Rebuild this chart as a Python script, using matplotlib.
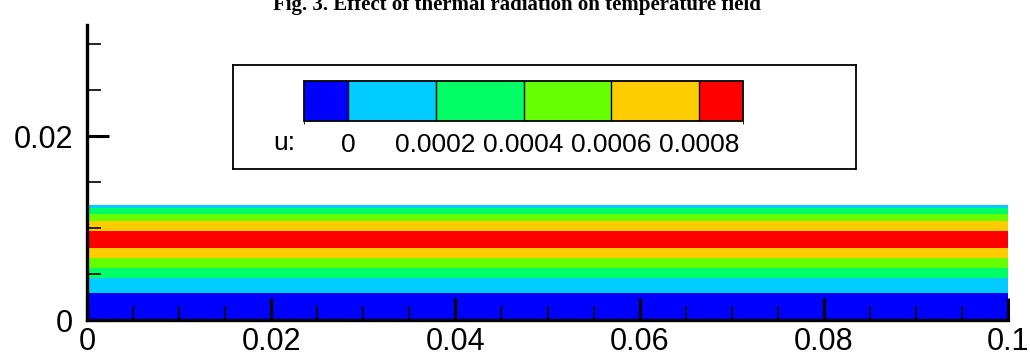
import matplotlib
matplotlib.use('Agg')
import matplotlib.pyplot as plt
import numpy as np
from matplotlib.colors import ListedColormap, BoundaryNorm

# velocity profile across the channel
y_prof = [0.0, 0.00297, 0.00453, 0.00562, 0.00671, 0.00779, 0.00875,
          0.00971, 0.01076, 0.01149, 0.01214, 0.01253]
u_prof = [0.0, 0.0, 0.0002, 0.0004, 0.0006, 0.0008, 0.00088,
          0.0008, 0.0006, 0.0004, 0.0002, 0.0001]
x_ends = [0.0, 0.1]

levels = [-0.0001, 0.0, 0.0002, 0.0004, 0.0006, 0.0008, 0.0009]
level_labels = ['0', '0.0002', '0.0004', '0.0006', '0.0008']
band_colors = ['#0000ff', '#00ccff', '#00ff66', '#66ff00', '#ffcc00', '#ff0000']

plt.rcParams['font.family'] = ['Liberation Sans', 'DejaVu Sans']

fig = plt.figure(figsize=(10.3, 3.56), dpi=100)
ax = fig.add_axes([87/1030, 36/356, 921/1030, 295/356])

X, Y = np.meshgrid(x_ends, y_prof)
U = np.tile(np.array(u_prof)[:, None], (1, len(x_ends)))
cmap = ListedColormap(band_colors)
norm = BoundaryNorm(levels, cmap.N)
cs = ax.contourf(X, Y, U, levels=levels, cmap=cmap, norm=norm)

ax.set_xlim(0, 0.1)
ax.set_ylim(0, 0.03207)
ax.set_xticks([0, 0.02, 0.04, 0.06, 0.08, 0.1])
ax.set_xticklabels(['0', '0.02', '0.04', '0.06', '0.08', '0.1'])
ax.set_xticks(np.arange(0, 0.1001, 0.005), minor=True)
ax.set_yticks([0, 0.02])
ax.set_yticklabels(['0', '0.02'])
ax.set_yticks([0.005, 0.01, 0.015, 0.025, 0.03], minor=True)
for s in ['top', 'right']:
    ax.spines[s].set_visible(False)
for s in ['left', 'bottom']:
    ax.spines[s].set_linewidth(2.4)
ax.tick_params(which='major', direction='in', length=16, width=2.2,
               labelsize=22, colors='black')
ax.tick_params(which='minor', direction='in', length=10, width=1.2)
ax.tick_params(axis='x', which='major', pad=5)
ax.tick_params(axis='y', which='major', pad=10)

# legend box
lax = fig.add_axes([233/1030, (356-169)/356, 623/1030, 104/356])
lax.set_xticks([])
lax.set_yticks([])
for s in lax.spines.values():
    s.set_linewidth(1.3)
lax.set_zorder(3)

cax = fig.add_axes([304/1030, (356-121)/356, 439/1030, 40/356])
cax.set_zorder(4)
cb = fig.colorbar(cs, cax=cax, orientation='horizontal', spacing='proportional',
                  drawedges=True)
cb.outline.set_linewidth(1.3)
cb.dividers.set_linewidth(1.0)
cb.set_ticks(levels[1:-1])
cb.set_ticklabels(level_labels)
cax.tick_params(length=0, labelsize=19, pad=9)
fig.text(284/1030, (356-143)/356, 'u:', fontsize=19, ha='center', va='center',
         zorder=5)

fig.text(517/1030, 1 - 10/356, 'Fig. 3. Effect of thermal radiation on temperature field',
         family=['Liberation Serif', 'DejaVu Serif'], fontweight='bold',
         fontsize=15, ha='center', va='baseline')

fig.savefig('out.png', dpi=100)
